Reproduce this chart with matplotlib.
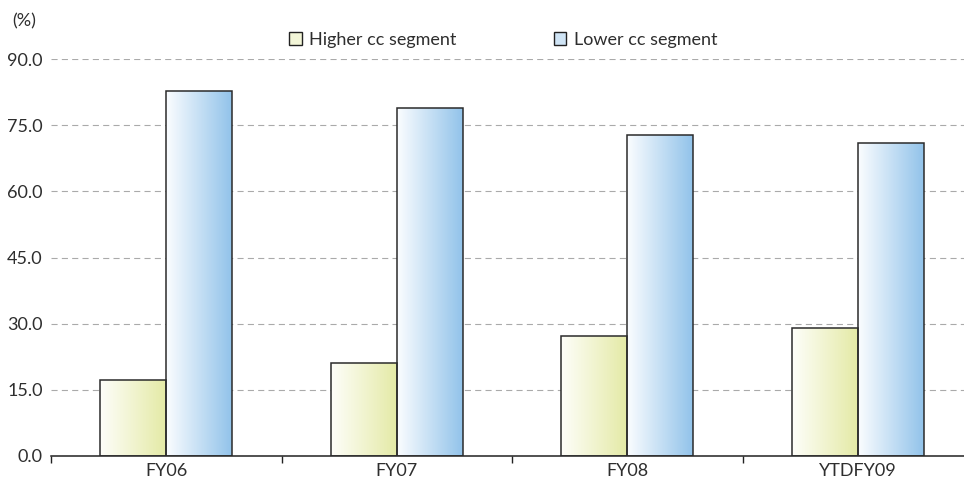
import numpy as np
import matplotlib
matplotlib.use('Agg')
import matplotlib.pyplot as plt
from matplotlib.patches import Patch
from matplotlib.colors import LinearSegmentedColormap

categories = ['FY06', 'FY07', 'FY08', 'YTDFY09']
higher_cc = [17.3, 21.1, 27.3, 29.0]
lower_cc = [82.8, 79.0, 72.8, 71.0]
series_names = ['Higher cc segment', 'Lower cc segment']
yticks = [0, 15, 30, 45, 60, 75, 90]

plt.rcParams['font.family'] = ['Lato', 'DejaVu Sans']
text_color = '#2e2e2e'
fs = 13

W, H = 964, 484
fig = plt.figure(figsize=(W / 100, H / 100), dpi=100)
ax = fig.add_axes([51 / W, 1 - 456 / H, 922 / W, 397 / H])

x = np.arange(len(categories))
bw = 0.286
cmaps = [
    LinearSegmentedColormap.from_list('hi', ['#fefefa', '#e4eaa6']),
    LinearSegmentedColormap.from_list('lo', ['#fbfdff', '#92c3ea']),
]
grad = np.linspace(0, 1, 256).reshape(1, -1)

for k, (vals, cm) in enumerate(zip([higher_cc, lower_cc], cmaps)):
    offs = (k - 0.5) * bw
    bars = ax.bar(x + offs, vals, width=bw, facecolor='none',
                  edgecolor='#2b2b2b', linewidth=1.1, zorder=3)
    for b in bars:
        x0, y0 = b.get_x(), b.get_y()
        im = ax.imshow(grad, cmap=cm, aspect='auto', zorder=2,
                       extent=[x0, x0 + b.get_width(), y0, y0 + b.get_height()])
        im.set_clip_path(b)

ax.set_xlim(-0.5, len(categories) - 0.5)
ax.set_ylim(0, 90)

ax.set_yticks(yticks)
ax.set_yticklabels([f'{v:.1f}' for v in yticks])
ax.tick_params(axis='y', length=0, pad=6, labelsize=fs, labelcolor=text_color)
ax.yaxis.grid(True, color='#aaaaaa', linewidth=0.8, linestyle=(0, (5.5, 3.8)), zorder=0)
ax.set_axisbelow(True)

ax.set_xticks(x)
ax.set_xticklabels(categories)
ax.set_xticks(np.arange(len(categories) + 1) - 0.5, minor=True)
ax.tick_params(axis='x', which='major', length=0, pad=5, labelsize=fs, labelcolor=text_color)
ax.tick_params(axis='x', which='minor', length=5, width=1.0, color='#222222', direction='out')

for s in ['left', 'right', 'top']:
    ax.spines[s].set_visible(False)
ax.spines['bottom'].set_color('#222222')
ax.spines['bottom'].set_linewidth(1.1)

fig.text(12 / W, 1 - 21 / H, '(%)', fontsize=fs, color=text_color, va='center', ha='left')

handles = [Patch(facecolor='#f3f6d8', edgecolor='#222222', linewidth=1.0),
           Patch(facecolor='#cfe4f5', edgecolor='#222222', linewidth=1.0)]
fig.legend(handles, series_names, loc='upper left', bbox_to_anchor=(289 / W, 1 - 32 / H),
           ncol=2, frameon=False, fontsize=fs, labelcolor=text_color,
           handlelength=0.7, handleheight=0.7, handletextpad=0.4,
           columnspacing=5.4, borderpad=0, borderaxespad=0)

fig.savefig('out.png', dpi=100)
